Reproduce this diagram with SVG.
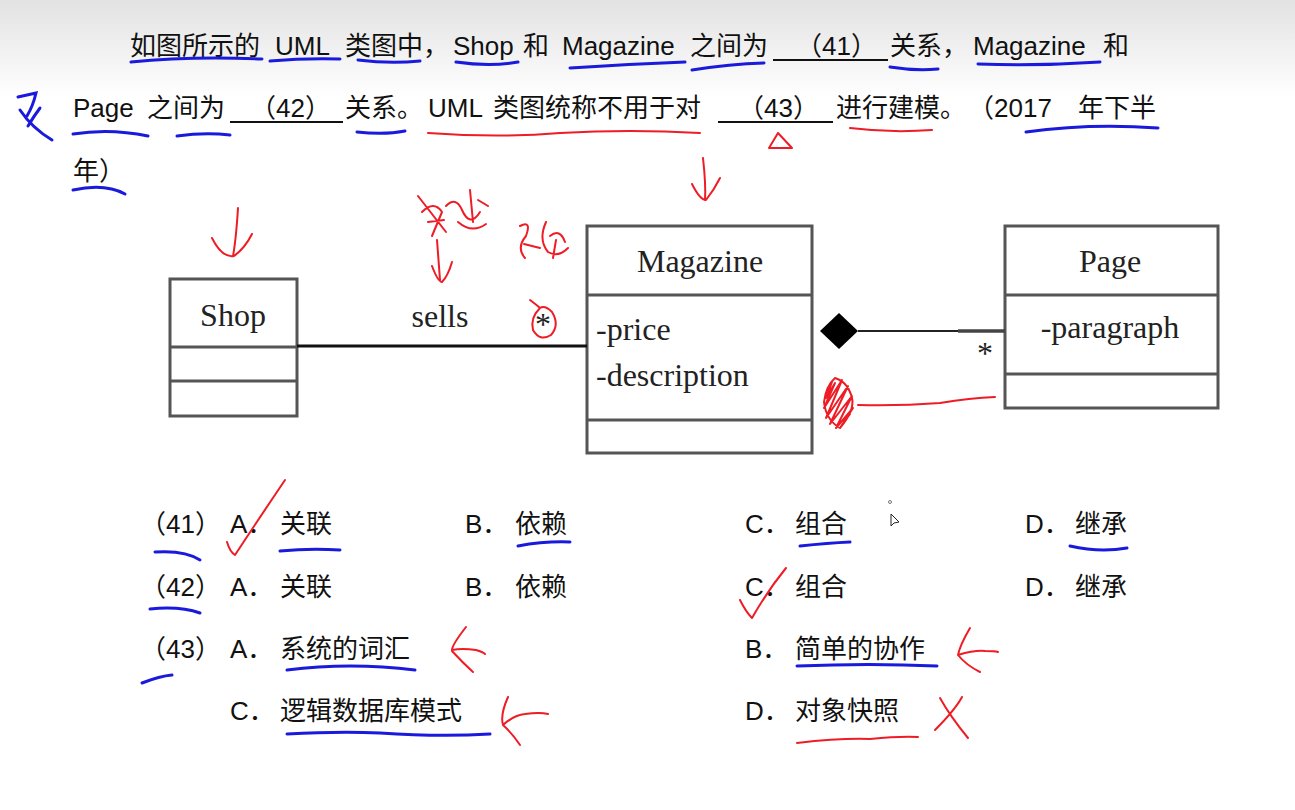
<svg xmlns="http://www.w3.org/2000/svg" width="1295" height="810" viewBox="0 0 1295 810">
<defs>
<linearGradient id="bg" x1="0" y1="0" x2="0" y2="1">
<stop offset="0" stop-color="#e2e2e2"/>
<stop offset="0.12" stop-color="#ffffff"/>
<stop offset="1" stop-color="#ffffff"/>
</linearGradient>
<style>
.t{font-family:"Liberation Sans","Noto Sans CJK SC",sans-serif;font-size:26px;fill:#111}
.u{font-family:"Liberation Serif","Noto Serif",serif;font-size:32px;fill:#222}
.box{fill:#fff;stroke:#555;stroke-width:3}
.sep{stroke:#555;stroke-width:3}
.blank{stroke:#111;stroke-width:2}
.bl{fill:none;stroke:#1a1adc;stroke-width:3;stroke-linecap:round}
.rd{fill:none;stroke:#ee1c24;stroke-width:2;stroke-linecap:round;stroke-linejoin:round}
</style>
</defs>
<rect width="1295" height="810" fill="url(#bg)"/>

<g id="question">
<text class="t" y="55"><tspan x="130">如图所示的</tspan><tspan x="275">UML</tspan><tspan x="345">类图中，</tspan><tspan x="453">Shop</tspan><tspan x="523">和</tspan><tspan x="562">Magazine</tspan><tspan x="690">之间为</tspan><tspan x="796">（41）</tspan><tspan x="890">关系，</tspan><tspan x="973">Magazine</tspan><tspan x="1103">和</tspan></text>
<line class="blank" x1="773" y1="60" x2="888" y2="60"/>
<text class="t" y="117"><tspan x="73">Page</tspan><tspan x="147">之间为</tspan><tspan x="250">（42）</tspan><tspan x="345">关系。</tspan><tspan x="428">UML</tspan><tspan x="493">类图统称不用于对</tspan><tspan x="738">（43）</tspan><tspan x="836">进行建模。</tspan><tspan x="968">（2017</tspan><tspan x="1078">年下半</tspan></text>
<line class="blank" x1="230" y1="122" x2="343" y2="122"/>
<line class="blank" x1="718" y1="122" x2="833" y2="122"/>
<text class="t" x="73" y="180">年）</text>
</g>

<g id="shop">
<rect class="box" x="170" y="279" width="127" height="137"/>
<line class="sep" x1="170" y1="347" x2="297" y2="347"/>
<line class="sep" x1="170" y1="381" x2="297" y2="381"/>
<text class="u" x="233" y="326" text-anchor="middle">Shop</text>
</g>

<g id="magazine">
<rect class="box" x="587" y="226" width="225" height="227"/>
<line class="sep" x1="587" y1="295" x2="812" y2="295"/>
<line class="sep" x1="587" y1="420" x2="812" y2="420"/>
<text class="u" x="700" y="272" text-anchor="middle">Magazine</text>
<text class="u" x="596" y="340">-price</text>
<text class="u" x="596" y="386">-description</text>
</g>

<g id="page">
<rect class="box" x="1005" y="226" width="213" height="182"/>
<line class="sep" x1="1005" y1="295" x2="1218" y2="295"/>
<line class="sep" x1="1005" y1="374" x2="1218" y2="374"/>
<text class="u" x="1110" y="272" text-anchor="middle">Page</text>
<text class="u" x="1110" y="338" text-anchor="middle">-paragraph</text>
</g>

<g id="connectors">
<line x1="297" y1="346" x2="587" y2="346" stroke="#111" stroke-width="3"/>
<text class="u" x="440" y="327" text-anchor="middle">sells</text>
<text class="u" x="543" y="335" text-anchor="middle" font-size="24">*</text>
<line x1="858" y1="331" x2="1005" y2="331" stroke="#222" stroke-width="2"/>
<line x1="958" y1="331" x2="1005" y2="331" stroke="#444" stroke-width="3.5"/>
<path d="M820 331 L839 313 L858 331 L839 349 Z" fill="#000"/>
<text class="u" x="985" y="364" text-anchor="middle" font-size="24">*</text>
</g>

<g id="options">
<text class="t" y="533"><tspan x="140">（41）</tspan><tspan x="230">A．</tspan><tspan x="280">关联</tspan><tspan x="465">B．</tspan><tspan x="515">依赖</tspan><tspan x="745">C．</tspan><tspan x="795">组合</tspan><tspan x="1025">D．</tspan><tspan x="1075">继承</tspan></text>
<text class="t" y="596"><tspan x="140">（42）</tspan><tspan x="230">A．</tspan><tspan x="280">关联</tspan><tspan x="465">B．</tspan><tspan x="515">依赖</tspan><tspan x="745">C．</tspan><tspan x="795">组合</tspan><tspan x="1025">D．</tspan><tspan x="1075">继承</tspan></text>
<text class="t" y="658"><tspan x="140">（43）</tspan><tspan x="230">A．</tspan><tspan x="280">系统的词汇</tspan><tspan x="745">B．</tspan><tspan x="795">简单的协作</tspan></text>
<text class="t" y="720"><tspan x="230">C．</tspan><tspan x="280">逻辑数据库模式</tspan><tspan x="745">D．</tspan><tspan x="795">对象快照</tspan></text>
</g>

<g id="blue-marks">
<path class="bl" d="M131 62 Q190 56 262 59"/>
<path class="bl" d="M270 61 Q305 58 340 59"/>
<path class="bl" d="M358 60 Q390 64 420 61"/>
<path class="bl" d="M456 62 Q490 67 518 62"/>
<path class="bl" d="M570 68 Q630 64 685 62"/>
<path class="bl" d="M692 70 Q730 64 764 63"/>
<path class="bl" d="M890 67 Q915 71 938 69"/>
<path class="bl" d="M978 64 Q1040 66 1100 62"/>
<path class="bl" d="M73 134 Q110 128 148 136"/>
<path class="bl" d="M177 136 Q205 132 230 135"/>
<path class="bl" d="M357 132 Q385 135 405 131"/>
<path class="bl" d="M1026 132 Q1090 123 1158 128"/>
<path class="bl" d="M73 190 Q105 183 125 194"/>
<path class="bl" d="M18 97 L36 93 Q33 106 27 116 M20 110 Q32 128 52 140 M28 126 Q34 116 40 108" stroke-width="2.5"/>
<path class="bl" d="M155 552 Q185 550 200 560"/>
<path class="bl" d="M280 551 Q310 548 340 550"/>
<path class="bl" d="M518 546 Q545 541 570 542"/>
<path class="bl" d="M800 546 Q828 543 850 542"/>
<path class="bl" d="M1070 546 Q1100 553 1127 548"/>
<path class="bl" d="M150 609 Q180 606 200 613"/>
<path class="bl" d="M142 683 Q160 676 172 675"/>
<path class="bl" d="M287 670 Q350 662 415 670"/>
<path class="bl" d="M797 666 Q870 663 937 666"/>
<path class="bl" d="M287 734 Q340 731 380 733 Q440 737 490 734"/>
</g>

<g id="red-marks">
<path class="rd" d="M238 208 Q236 240 233 256 M212 238 Q222 258 234 256 Q245 248 252 234"/>
<path class="rd" d="M418 196 L446 232 M422 212 Q434 200 442 212 L432 236 M428 222 L444 220 M446 206 Q456 196 462 210 Q470 228 480 212 M470 190 L473 222 M458 222 Q472 234 486 224 M478 200 L488 206"/>
<path class="rd" d="M437 240 L440 280 M432 266 Q438 282 442 282 Q448 276 452 262"/>
<path class="rd" d="M520 226 Q532 220 526 236 Q516 248 525 258 M524 244 L540 248 M546 222 Q538 240 548 252 Q558 258 568 248 M550 236 Q560 228 565 242 M556 240 L553 258"/>
<path class="rd" d="M530 300 Q538 306 540 308 Q530 318 533 330 Q540 342 551 335 Q560 325 552 312 Q545 305 540 308"/>
<path class="rd" d="M703 158 Q706 185 705 200 M692 184 Q700 200 706 200 Q714 190 720 178"/>
<path class="rd" d="M769 148 L778 133 L792 148 Z"/>
<path class="rd" d="M428 133 Q500 138 560 133 Q630 129 700 133"/>
<path class="rd" d="M850 128 Q890 133 932 130"/>
<path class="rd" stroke-width="2.5" d="M832 382 L826 398 L835 383 L824 408 L842 380 L826 418 L848 386 L830 424 L852 396 L836 428 L853 408 L840 428 L850 414 M835 378 Q848 382 852 398 Q855 410 840 428 Q826 420 824 402 Q826 386 835 378"/>
<path class="rd" d="M858 405 Q900 406 940 403 Q970 398 995 397"/>
<path class="rd" d="M227 542 Q230 552 235 555 Q258 520 285 480"/>
<path class="rd" d="M740 600 Q746 612 752 618 Q768 590 786 568"/>
<path class="rd" d="M466 627 Q452 645 452 650 Q462 648 476 650 Q483 652 485 654 M452 651 Q462 662 473 672"/>
<path class="rd" d="M508 697 Q500 715 503 725 Q514 715 525 714 Q540 712 548 714 M503 725 Q512 733 520 745"/>
<path class="rd" d="M970 628 Q960 645 958 655 Q975 650 985 651 Q995 651 998 652 M958 655 Q966 665 980 672"/>
<path class="rd" d="M962 697 Q955 710 935 730 M940 698 Q950 716 968 738"/>
<path class="rd" d="M797 743 Q840 738 870 739 Q900 736 918 737"/>
</g>

<g id="cursor">
<circle cx="890" cy="502" r="1.5" fill="none" stroke="#777"/>
<path d="M891 514 L891 526 L894 523 L899 522 Z" fill="#fff" stroke="#222" stroke-width="1"/>
</g>
</svg>
